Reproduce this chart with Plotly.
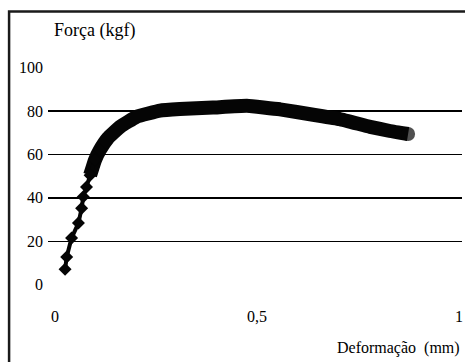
import plotly.graph_objects as go

# Rising part (discrete beads)
rise_x = [0.025, 0.029, 0.041, 0.058, 0.066, 0.070, 0.078, 0.087, 0.099, 0.111]
rise_f = [7.0, 12.7, 21.4, 28.3, 35.2, 40.4, 45.0, 50.4, 57.4, 62.0]

# Dense band part
band_x = [0.087, 0.099, 0.111, 0.131, 0.161, 0.202, 0.26, 0.309, 0.391, 0.475,
          0.557, 0.639, 0.705, 0.780, 0.829, 0.874]
band_f = [50.4, 57.4, 62.0, 67.5, 72.7, 77.4, 80.2, 80.9, 81.6, 82.4,
          80.8, 78.3, 76.3, 72.7, 70.8, 69.4]

y_ticks = [0, 20, 40, 60, 80, 100]
thin_grid = [20, 60]
thick_grid = [40, 80]
x_ticks = [0, 0.5, 1]
x_labels = ["0", "0,5", "1"]

FONT = "Liberation Serif, Times New Roman, serif"
X_RANGE = [-0.0173, 1.0074]
Y_RANGE = [-9.5, 117.4]

fig = go.Figure()
# invisible traces to activate the grid axes
fig.add_trace(go.Scatter(x=[None], y=[None], yaxis="y2", showlegend=False))
fig.add_trace(go.Scatter(x=[None], y=[None], yaxis="y3", showlegend=False))
end_sizes = [0] * (len(band_x) - 1) + [14]
fig.add_trace(go.Scatter(x=band_x, y=band_f, mode="lines+markers",
                         line=dict(color="#050505", width=14, shape="spline", smoothing=0.3),
                         marker=dict(size=end_sizes, color="#050505", line=dict(width=0)),
                         hoverinfo="skip", showlegend=False))
fig.add_trace(go.Scatter(x=rise_x, y=rise_f, mode="lines+markers",
                         line=dict(color="#050505", width=4),
                         marker=dict(symbol="diamond", size=10, color="#050505"),
                         showlegend=False))

fig.update_layout(
    width=465, height=362,
    margin=dict(l=48, r=3, t=30, b=57),
    paper_bgcolor="white", plot_bgcolor="white",
    font=dict(family=FONT, size=16, color="black"),
    xaxis=dict(range=X_RANGE, tickvals=x_ticks, ticktext=x_labels,
               showgrid=False, zeroline=False, showline=False, ticks=""),
    yaxis=dict(range=Y_RANGE, tickvals=y_ticks, showgrid=False,
               zeroline=False, showline=False, ticks="", ticklabelstandoff=4),
    yaxis2=dict(range=Y_RANGE, overlaying="y", tickvals=thin_grid,
                showticklabels=False, showgrid=True, gridcolor="black",
                gridwidth=1, zeroline=False),
    yaxis3=dict(range=Y_RANGE, overlaying="y", tickvals=thick_grid,
                showticklabels=False, showgrid=True, gridcolor="black",
                gridwidth=2.2, zeroline=False),
)

fig.add_annotation(text="Força (kgf)", xref="paper", yref="paper",
                   x=0.01, y=1.0, xanchor="left", yanchor="middle",
                   showarrow=False, font=dict(family=FONT, size=18))
fig.add_annotation(text="Deformação\u00a0\u00a0(mm)", xref="paper", yref="paper",
                   x=1.0, y=-0.156, xanchor="right", yanchor="middle",
                   showarrow=False, font=dict(family=FONT, size=16))
fig.add_shape(type="rect", xref="paper", yref="paper",
              x0=-0.094, x1=1.3, y0=-0.5, y1=1.067,
              line=dict(color="#1a1a1a", width=2.5))

fig.write_html("out.html")
